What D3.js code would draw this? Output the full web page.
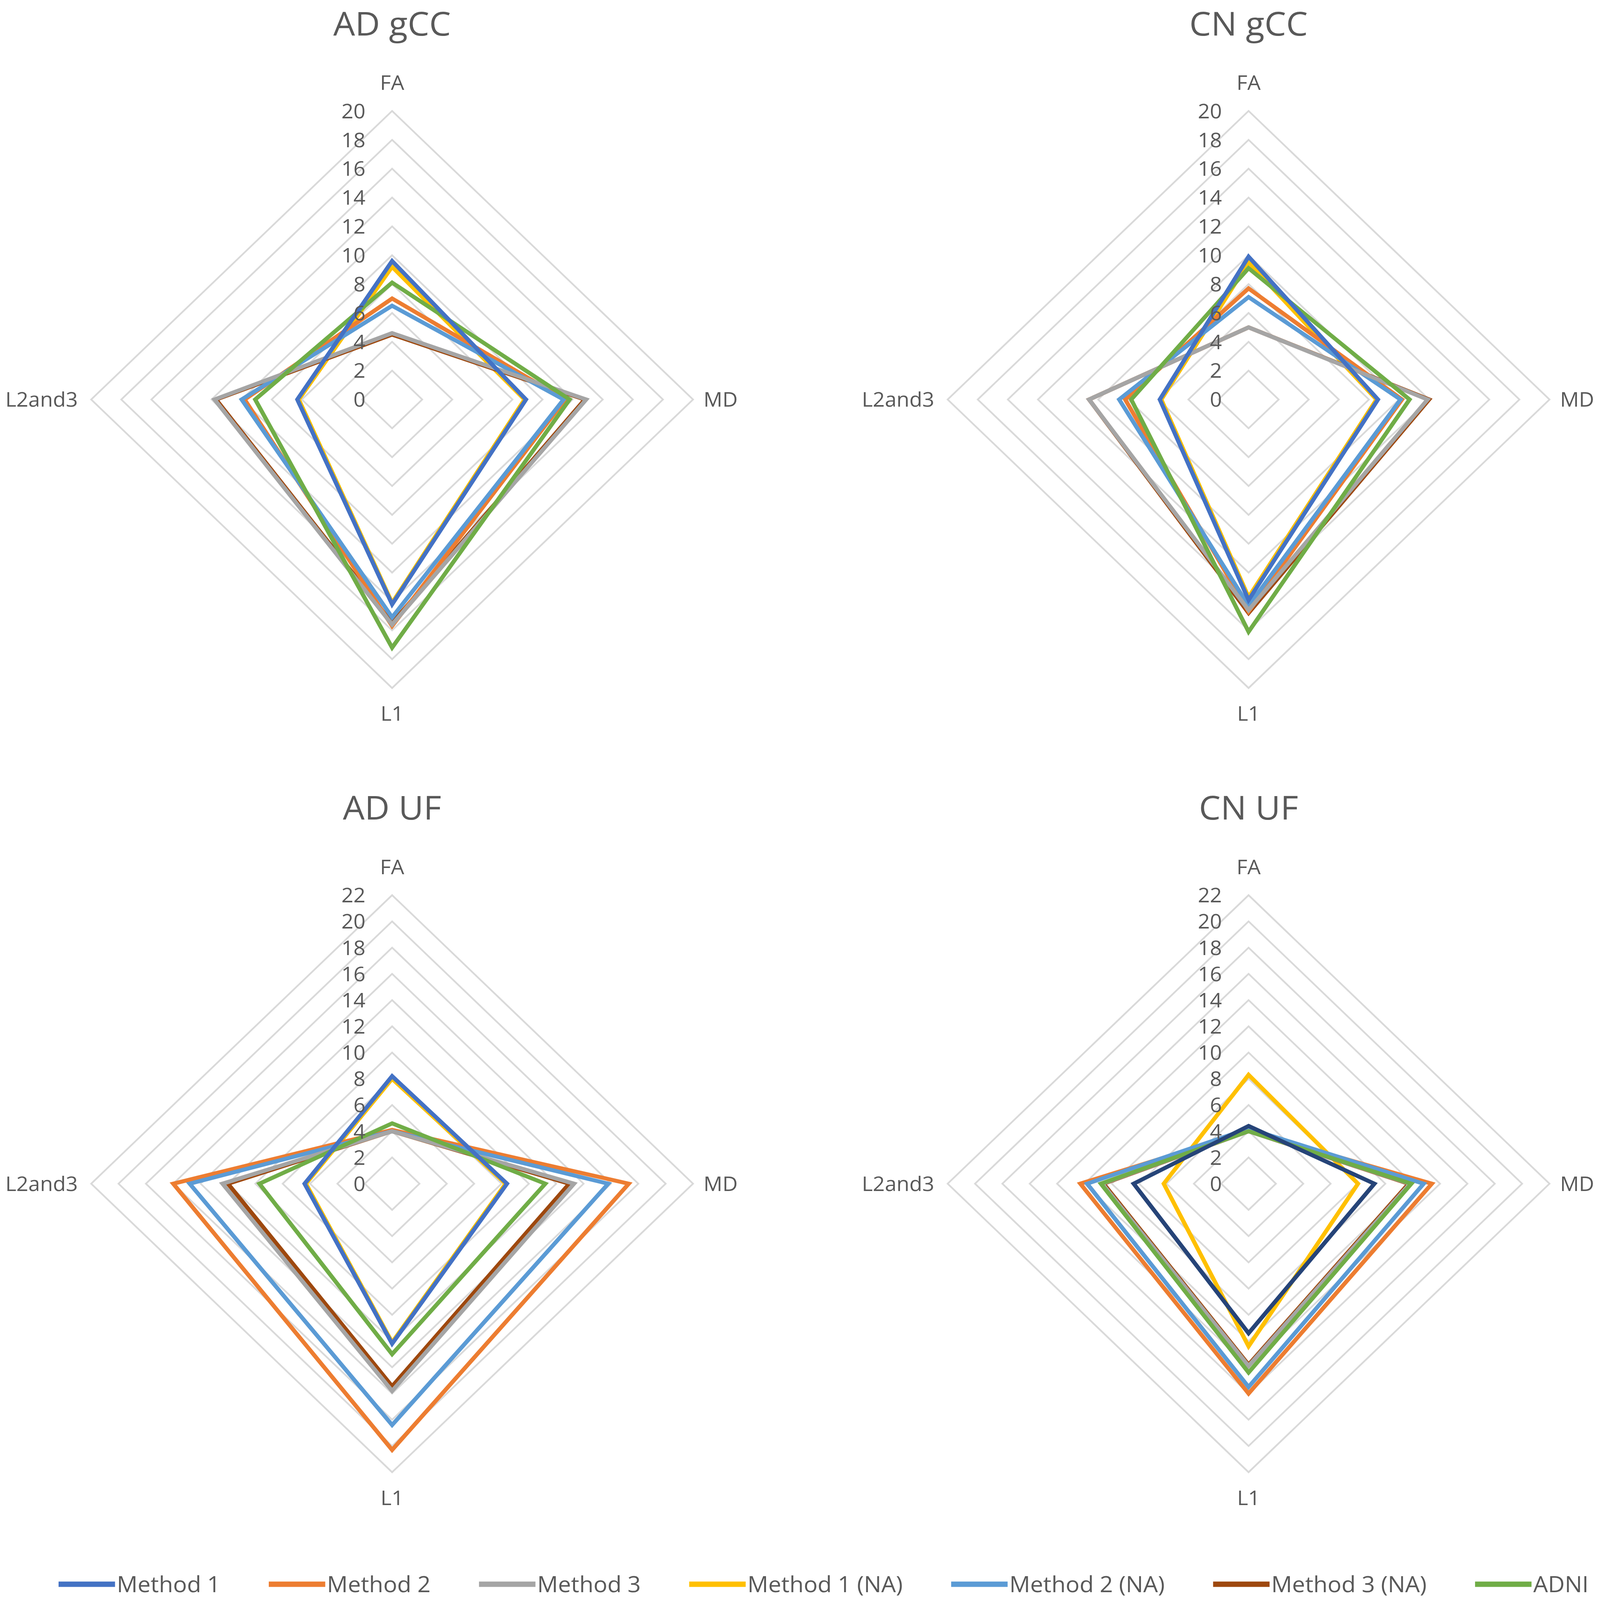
<!DOCTYPE html>
<html>
<head>
<meta charset="utf-8">
<script src="https://cdn.jsdelivr.net/npm/d3@7"></script>
<style>
  html, body { margin: 0; padding: 0; background: #ffffff; width: 100%; height: 100%; overflow: hidden; }
  svg { display: block; width: 100vw; height: 100vh; }
  text { font-family: "Open Sans", "DejaVu Sans", sans-serif; fill: #595959; }
</style>
</head>
<body>
<svg id="chart" viewBox="0 0 4562 4758" preserveAspectRatio="none"></svg>
<script>
// ---------- DATA ----------
const axes = ["FA", "MD", "L1", "L2and3"];
const seriesNames = ["Method 1", "Method 2", "Method 3", "Method 1 (NA)", "Method 2 (NA)", "Method 3 (NA)", "ADNI"];
const seriesColors = ["#4472C4", "#ED7D31", "#A5A5A5", "#FFC000", "#5B9BD5", "#9E480E", "#70AD47"];
const panelTitles = ["AD gCC", "CN gCC", "AD UF", "CN UF"];
const panelMax = [20, 20, 22, 22];
const tickStep = 2;

// values in axis order FA, MD, L1, L2and3 ; series order as seriesNames
const adGCC = [
  [9.6, 8.9, 14.2, 6.3],
  [7.0, 11.5, 15.7, 9.8],
  [4.6, 12.9, 15.6, 11.8],
  [9.2, 8.8, 14.1, 6.2],
  [6.5, 11.4, 15.1, 10.0],
  [4.5, 12.8, 15.5, 11.7],
  [8.1, 11.8, 17.2, 9.1]
];
const cnGCC = [
  [9.9, 8.6, 13.9, 5.9],
  [7.7, 10.2, 14.7, 8.2],
  [5.0, 11.9, 14.6, 10.6],
  [9.5, 8.5, 13.7, 5.8],
  [7.1, 10.1, 14.3, 8.6],
  [5.0, 12.0, 14.8, 10.6],
  [9.1, 10.7, 16.1, 7.8]
];
const adUF = [
  [8.2, 8.4, 12.2, 6.4],
  [4.1, 17.3, 20.3, 16.0],
  [4.0, 13.3, 15.8, 12.4],
  [8.0, 8.3, 12.1, 6.3],
  [4.0, 15.8, 18.4, 14.8],
  [4.0, 12.95, 15.45, 12.0],
  [4.6, 11.2, 13.0, 9.7]
];
const cnUF = [
  [4.4, 9.2, 11.4, 8.4],
  [4.0, 13.4, 16.0, 12.3],
  [4.0, 11.8, 13.9, 10.7],
  [8.3, 8.0, 12.4, 6.2],
  [4.2, 12.8, 15.5, 11.8],
  [4.0, 11.7, 13.8, 10.6],
  [4.0, 11.9, 14.4, 10.8]
];
const panelValues = [adGCC, cnGCC, adUF, cnUF];
// in "CN UF" Method 1 is drawn in a darker blue
const panelColorOverride = [{}, {}, {}, {0: "#264478"}];
// drawing order (later on top)
const drawOrder = [3, 5, 1, 4, 2, 6, 0];

// ---------- LAYOUT ----------
const svg = d3.select("#chart");
svg.append("rect").attr("width", 4562).attr("height", 4758).attr("fill", "#ffffff");

const R = 858;
const centers = [[1118, 1188], [3560, 1188], [1118, 3520], [3560, 3520]];
const angle = d3.scalePoint().domain(axes).range([0, 2 * Math.PI * 3 / 4]);

panelTitles.forEach((title, p) => {
  const [cx, cy] = centers[p];
  const max = panelMax[p];
  const r = d3.scaleLinear().domain([0, max]).range([0, R]);
  const ticks = d3.range(0, max + 0.001, tickStep);
  const g = svg.append("g").attr("transform", `translate(${cx},${cy})`);

  const radial = d3.lineRadial()
    .angle(d => angle(d.axis))
    .radius(d => r(d.value))
    .curve(d3.curveLinearClosed);

  // grid rings
  g.append("g").selectAll("path")
    .data(ticks.filter(t => t > 0))
    .join("path")
    .attr("d", t => radial(axes.map(a => ({axis: a, value: t}))))
    .attr("fill", "none")
    .attr("stroke", "#D9D9D9")
    .attr("stroke-width", 5);

  // series
  const vals = panelValues[p];
  g.append("g").selectAll("path")
    .data(drawOrder)
    .join("path")
    .attr("d", s => radial(axes.map((a, i) => ({axis: a, value: vals[s][i]}))))
    .attr("fill", "none")
    .attr("stroke", s => panelColorOverride[p][s] || seriesColors[s])
    .attr("stroke-width", 12)
    .attr("stroke-linejoin", "miter");

  // tick labels
  g.append("g").selectAll("text")
    .data(ticks)
    .join("text")
    .attr("x", -76)
    .attr("y", t => -r(t))
    .attr("dy", "0.36em")
    .attr("text-anchor", "end")
    .attr("font-size", 60)
    .text(t => t);

  // axis labels
  const labelPos = {
    "FA":     {x: 0, y: -R - 84, anchor: "middle"},
    "MD":     {x: R + 30, y: 0, anchor: "start"},
    "L1":     {x: 0, y: R + 76, anchor: "middle"},
    "L2and3": {x: -R - 38, y: 0, anchor: "end"}
  };
  g.append("g").selectAll("text")
    .data(axes)
    .join("text")
    .attr("x", a => labelPos[a].x)
    .attr("y", a => labelPos[a].y)
    .attr("dy", "0.36em")
    .attr("text-anchor", a => labelPos[a].anchor)
    .attr("font-size", 60)
    .text(a => a);

  // title
  g.append("text")
    .attr("x", 0)
    .attr("y", -1118)
    .attr("dy", "0.36em")
    .attr("text-anchor", "middle")
    .attr("font-size", 98)
    .text(title);
});

// ---------- LEGEND ----------
const legend = svg.append("g").attr("transform", "translate(0,4711)");
let lx = 167;
seriesNames.forEach((name, s) => {
  legend.append("line")
    .attr("x1", lx).attr("x2", lx + 161)
    .attr("y1", 0).attr("y2", 0)
    .attr("stroke", seriesColors[s])
    .attr("stroke-width", 16);
  const t = legend.append("text")
    .attr("x", lx + 166)
    .attr("y", 0)
    .attr("dy", "0.36em")
    .attr("font-size", 66)
    .text(name);
  const w = t.node().getComputedTextLength();
  lx = lx + 166 + w + 138;
});
</script>
</body>
</html>
